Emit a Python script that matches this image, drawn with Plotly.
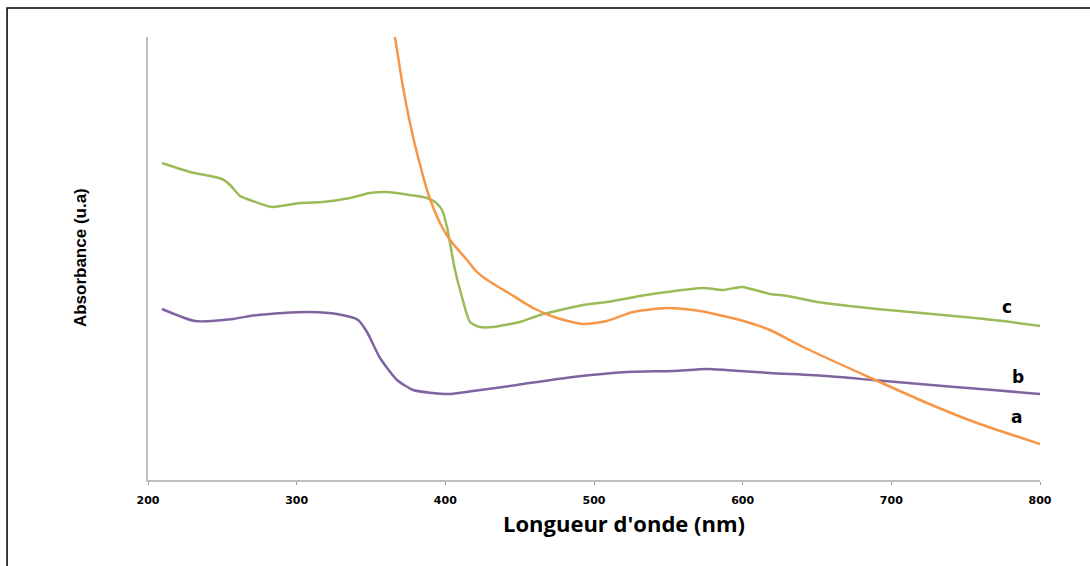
import plotly.graph_objects as go

# Curve a (orange)
a_x = [364.0, 366.1, 371.5, 378.3, 384.3, 388.3, 396.4, 403.1, 414.6, 420.0, 425.3, 436.8, 441.5,
       459.0, 475.1, 492.6, 508.7, 526.2, 549.1, 571.3, 598.2, 618.4, 640.6, 687.7, 724.0, 757.6, 800.0]
a_y = [4.60, 4.43, 3.93, 3.43, 3.08, 2.87, 2.57, 2.40, 2.20, 2.10, 2.03, 1.92, 1.88,
       1.72, 1.62, 1.56, 1.59, 1.68, 1.72, 1.69, 1.60, 1.50, 1.33, 1.01, 0.77, 0.57, 0.36]

# Curve b (purple)
b_x = [209.4, 231.6, 257.2, 268.6, 290.8, 309.0, 327.1, 341.3, 347.3, 356.1, 367.5, 378.3, 391.7,
       401.8, 418.6, 448.2, 485.9, 522.2, 553.1, 576.0, 598.2, 618.4, 656.7, 687.7, 734.8, 768.4, 800.0]
b_y = [1.71, 1.59, 1.61, 1.64, 1.67, 1.68, 1.66, 1.60, 1.48, 1.22, 1.00, 0.90, 0.87,
       0.86, 0.89, 0.95, 1.03, 1.08, 1.09, 1.11, 1.09, 1.07, 1.04, 1.00, 0.94, 0.90, 0.86]

# Curve c (green)
c_x = [209.4, 228.3, 249.8, 255.2, 261.9, 268.6, 283.4, 302.2, 317.7, 335.9, 349.3, 360.8, 371.5,
       387.7, 393.1, 397.8, 401.1, 406.5, 411.2, 416.6, 423.3, 432.1, 450.2, 463.7, 492.6, 508.7,
       530.9, 549.1, 573.3, 586.8, 599.6, 618.4, 629.8, 650.0, 690.4, 734.8, 775.1, 800.0]
c_y = [3.17, 3.08, 3.01, 2.95, 2.84, 2.80, 2.73, 2.77, 2.78, 2.82, 2.87, 2.88, 2.86,
       2.82, 2.78, 2.70, 2.53, 2.10, 1.83, 1.58, 1.53, 1.53, 1.58, 1.65, 1.75, 1.78,
       1.84, 1.88, 1.92, 1.90, 1.93, 1.86, 1.84, 1.78, 1.71, 1.65, 1.59, 1.54]

x_ticks = [200, 300, 400, 500, 600, 700, 800]
curve_labels = ["a", "b", "c"]
label_x = [784.5, 785.2, 777.8]
label_y = [0.63, 1.03, 1.73]

fig = go.Figure()
fig.add_trace(go.Scatter(x=c_x, y=c_y, mode="lines", line=dict(color="#9BBB59", width=2.5, shape="spline", smoothing=0.6)))
fig.add_trace(go.Scatter(x=b_x, y=b_y, mode="lines", line=dict(color="#8064A2", width=2.5, shape="spline", smoothing=0.6)))
fig.add_trace(go.Scatter(x=a_x, y=a_y, mode="lines", line=dict(color="#F79646", width=2.5, shape="spline", smoothing=0.6)))

for t, lx, ly in zip(curve_labels, label_x, label_y):
    fig.add_annotation(x=lx, y=ly, text="<b>%s</b>" % t, showarrow=False,
                       xanchor="center", yanchor="middle",
                       font=dict(family="DejaVu Sans", size=17, color="#000000"))

fig.add_annotation(xref="paper", yref="paper", x=0.5336, y=-0.097, text="<b>Longueur d'onde (nm)</b>",
                   showarrow=False, xanchor="center", yanchor="middle",
                   font=dict(family="Open Sans", size=22, color="#000000"))
fig.add_annotation(xref="paper", yref="paper", x=-0.0762, y=0.501, text="<b>Absorbance (u.a)</b>",
                   textangle=-90, showarrow=False, xanchor="center", yanchor="middle",
                   font=dict(family="Liberation Sans Narrow, Liberation Sans", size=17, color="#000000"))

# outer frame
fig.add_shape(type="rect", xref="paper", yref="paper", x0=-0.158, y0=-0.4, x1=1.2, y1=1.0655,
              line=dict(color="#000000", width=1.5), layer="below")

fig.update_layout(
    width=1090, height=566,
    margin=dict(l=148, r=50, t=37, b=86),
    paper_bgcolor="white", plot_bgcolor="white",
    showlegend=False,
    xaxis=dict(range=[200, 800], tickvals=x_ticks, ticktext=[str(v) for v in x_ticks],
               showgrid=False, zeroline=False, showline=True, linecolor="#BFBFBF", linewidth=1.5,
               ticks="outside", ticklen=3, tickcolor="#A0A0A0", ticklabelstandoff=6,
               tickfont=dict(family="DejaVu Sans", size=11, color="#000000", weight="bold")),
    yaxis=dict(range=[0, 4.43], showgrid=False, zeroline=False, showline=True, linecolor="#BFBFBF",
               linewidth=1.5, showticklabels=False, ticks=""),
)

fig.write_html("out.html")
